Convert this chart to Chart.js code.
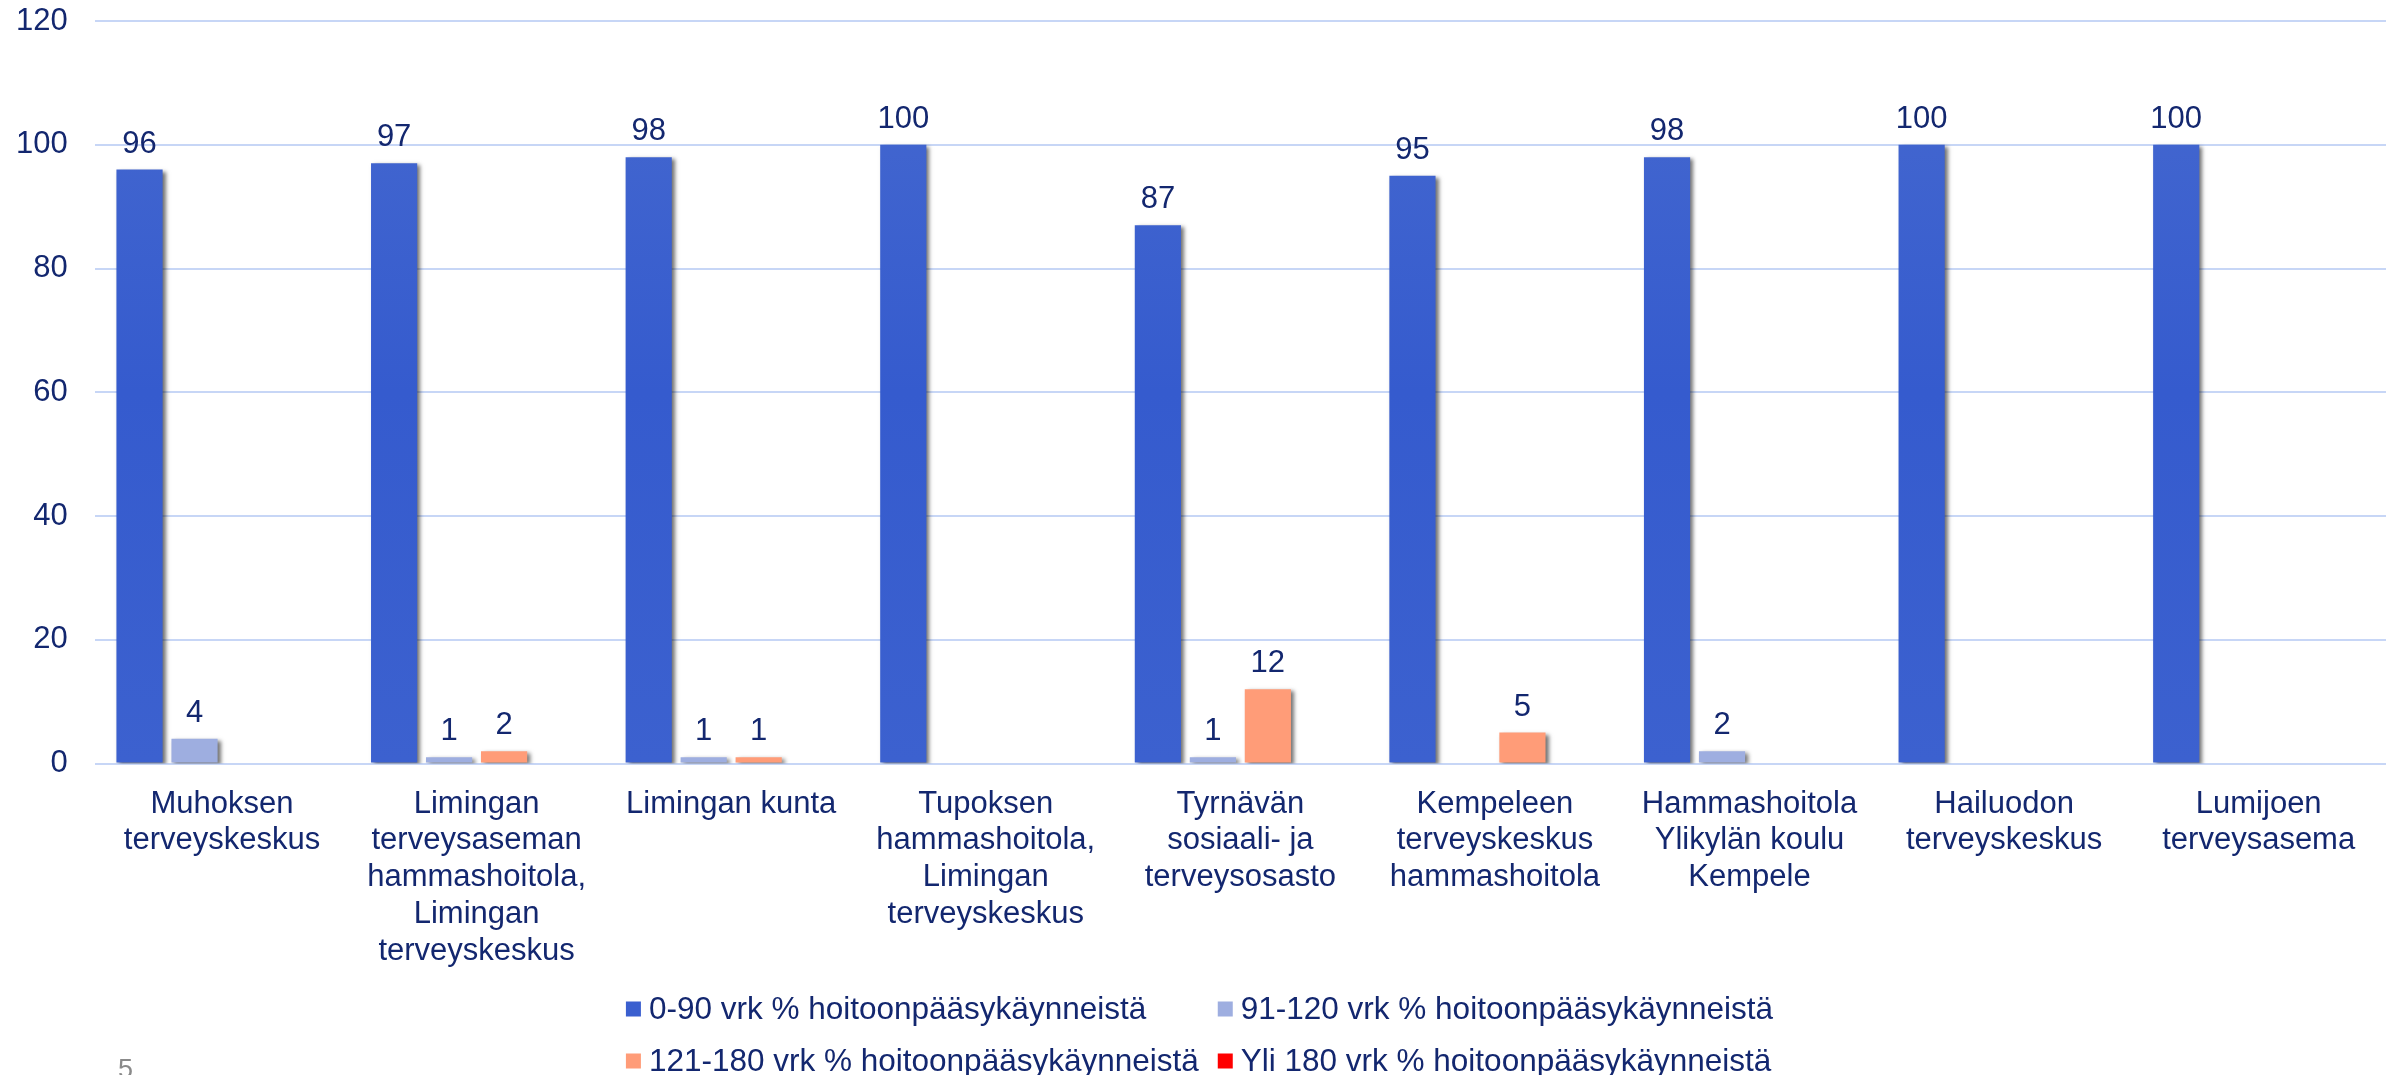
<!DOCTYPE html>
<html>
<head>
<meta charset="utf-8">
<script src="https://cdn.jsdelivr.net/npm/chart.js@4/dist/chart.umd.min.js"></script>
<style>
  html, body { margin: 0; padding: 0; background: #ffffff; }
  #wrap { width: 2405px; height: 1075px; }
</style>
</head>
<body>
<div id="wrap"><canvas id="hoitoChart" width="2405" height="1075"></canvas></div>
<script>
// --- data ---
const categories = [
    ['Muhoksen', 'terveyskeskus'],
    ['Limingan', 'terveysaseman', 'hammashoitola,', 'Limingan', 'terveyskeskus'],
    ['Limingan kunta'],
    ['Tupoksen', 'hammashoitola,', 'Limingan', 'terveyskeskus'],
    ['Tyrnävän', 'sosiaali- ja', 'terveysosasto'],
    ['Kempeleen', 'terveyskeskus', 'hammashoitola'],
    ['Hammashoitola', 'Ylikylän koulu', 'Kempele'],
    ['Hailuodon', 'terveyskeskus'],
    ['Lumijoen', 'terveysasema']
];
const seriesNames = [
    '0-90 vrk % hoitoonpääsykäynneistä',
    '91-120 vrk % hoitoonpääsykäynneistä',
    '121-180 vrk % hoitoonpääsykäynneistä',
    'Yli 180 vrk % hoitoonpääsykäynneistä'
];
const vrk0_90 = [96, 97, 98, 100, 87, 95, 98, 100, 100];
const vrk91_120 = [4, 1, 1, 0, 1, 0, 2, 0, 0];
const vrk121_180 = [0, 2, 1, 0, 12, 5, 0, 0, 0];
const vrkYli180 = [0, 0, 0, 0, 0, 0, 0, 0, 0];
const yTicks = [0, 20, 40, 60, 80, 100, 120];

const seriesColors = ['#3a5fcf', '#9eaee0', '#ff9c78', '#ff0000'];
const textColor = '#13276f';
const fontFamily = '"Liberation Sans", Arial, sans-serif';
const gridColor = '#c7d6f6';

// sininen pylväs: kevyt liukuväri ylhäältä alas
function blueFill(context) {
    const chart = context.chart;
    const area = chart.chartArea;
    if (!area) return seriesColors[0];
    const g = chart.ctx.createLinearGradient(0, area.top, 0, area.bottom);
    g.addColorStop(0, '#4669cf');
    g.addColorStop(0.5, '#355bce');
    g.addColorStop(1, '#3c61cf');
    return g;
}

// akselin omat reunavarat pois + tick-padding lasketaan vain kerran
function fitAxis(scale) {
    scale.paddingTop = 0;
    scale.paddingBottom = 0;
    scale.paddingLeft = 0;
    scale.paddingRight = 0;
    const pad = scale.options.ticks.padding;
    if (scale.isHorizontal()) {
        scale.height -= pad;
    } else {
        scale.width -= pad;
    }
}

// varjo pylväiden oikealle puolelle
const barShadow = {
    id: 'barShadow',
    beforeDatasetsDraw(chart) {
        const ctx = chart.ctx;
        ctx.save();
        ctx.shadowColor = 'rgba(0,0,0,0.55)';
        ctx.shadowBlur = 4;
        ctx.shadowOffsetX = 3;
        ctx.shadowOffsetY = 2;
    },
    afterDatasetsDraw(chart) {
        chart.ctx.restore();
    }
};

// arvot pylväiden päälle (nollat jätetään pois)
const valueLabels = {
    id: 'valueLabels',
    afterDatasetsDraw(chart) {
        const ctx = chart.ctx;
        ctx.save();
        ctx.shadowColor = 'transparent';
        ctx.font = '31px ' + fontFamily;
        ctx.fillStyle = textColor;
        ctx.textAlign = 'center';
        ctx.textBaseline = 'bottom';
        chart.data.datasets.forEach((ds, i) => {
            const meta = chart.getDatasetMeta(i);
            meta.data.forEach((bar, j) => {
                const v = ds.data[j];
                if (!v) return;
                ctx.fillText(String(v), bar.x, bar.y - 10);
            });
        });
        ctx.restore();
    }
};

// selite kahdessa rivissä + sivunumero
const customLegend = {
    id: 'customLegend',
    afterDraw(chart) {
        const ctx = chart.ctx;
        const ds = chart.data.datasets;
        ctx.save();
        ctx.font = '31.5px ' + fontFamily;
        ctx.textBaseline = 'middle';
        ctx.textAlign = 'left';
        const box = 15, gap = 8, colGap = 19;
        const col1W = Math.max(ctx.measureText(ds[0].label).width, ctx.measureText(ds[2].label).width);
        const col2W = Math.max(ctx.measureText(ds[1].label).width, ctx.measureText(ds[3].label).width);
        const total = box + gap + col1W + colGap + box + gap + col2W;
        const x1 = (chart.width - total) / 2 - 3;
        const x2 = x1 + box + gap + col1W + colGap;
        const rows = [1009, 1061];
        const pos = [[x1, rows[0]], [x2, rows[0]], [x1, rows[1]], [x2, rows[1]]];
        ds.forEach((d, i) => {
            const [x, y] = pos[i];
            ctx.fillStyle = seriesColors[i];
            ctx.fillRect(x, y - box / 2, box, box);
            ctx.fillStyle = textColor;
            ctx.fillText(d.label, x + box + gap, y + 1);
        });
        ctx.fillStyle = '#8a8a8a';
        ctx.font = '27px ' + fontFamily;
        ctx.textBaseline = 'top';
        ctx.fillText('5', 118, 1057);
        ctx.restore();
    }
};

const ctx = document.getElementById('hoitoChart').getContext('2d');
const dataArrays = [vrk0_90, vrk91_120, vrk121_180, vrkYli180];

const myChart = new Chart(ctx, {
    type: 'bar',
    data: {
        labels: categories,
        datasets: dataArrays.map((arr, i) => ({
            label: seriesNames[i],
            data: arr,
            backgroundColor: i === 0 ? blueFill : seriesColors[i],
            borderWidth: 0,
            categoryPercentage: 0.864,
            barPercentage: 0.84
        }))
    },
    options: {
        responsive: false,
        devicePixelRatio: 1,
        animation: false,
        layout: {
            padding: { top: 21, left: 16, right: 19, bottom: 105 }
        },
        plugins: {
            legend: { display: false },
            tooltip: { enabled: false }
        },
        scales: {
            x: {
                afterFit: fitAxis,
                grid: { display: false, drawTicks: false },
                border: { display: false },
                ticks: {
                    color: textColor,
                    font: { family: fontFamily, size: 31, lineHeight: 1.19 },
                    padding: 22,
                    autoSkip: false,
                    maxRotation: 0,
                    minRotation: 0
                }
            },
            y: {
                min: 0,
                max: 120,
                afterFit: fitAxis,
                afterBuildTicks(axis) {
                    axis.ticks = yTicks.map(v => ({ value: v }));
                },
                grid: { color: gridColor, lineWidth: 2, drawTicks: false },
                border: { display: false },
                ticks: {
                    color: textColor,
                    font: { family: fontFamily, size: 31 },
                    padding: 27
                }
            }
        }
    },
    plugins: [barShadow, valueLabels, customLegend]
});
</script>
</body>
</html>
